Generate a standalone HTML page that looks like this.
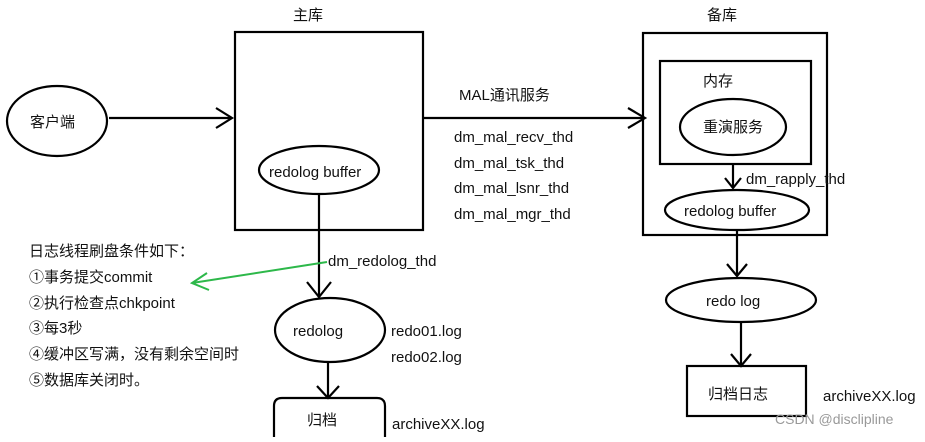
<!DOCTYPE html>
<html><head><meta charset="utf-8"><style>
body{margin:0;background:#fff}
svg text{font-family:"Liberation Sans","Noto Sans CJK SC",sans-serif;font-size:15px;fill:#111}
</style></head><body>
<svg width="925" height="437" viewBox="0 0 925 437" xmlns="http://www.w3.org/2000/svg">
<g fill="none" stroke="#000" stroke-width="2.2">
<rect x="235" y="32" width="188" height="198"/>
<ellipse cx="57" cy="121" rx="50" ry="35"/>
<line x1="109" y1="118" x2="232" y2="118"/><polyline points="216,108 232,118 216,128"/>
<ellipse cx="319" cy="170" rx="60" ry="24"/>
<line x1="319" y1="195" x2="319" y2="297"/><polyline points="307,282 319,297 331,282"/>
<ellipse cx="330" cy="330" rx="55" ry="32"/>
<line x1="328" y1="363" x2="328" y2="398"/><polyline points="317,386 328,398 339,386"/>
<path d="M274,437 V406 Q274,398 282,398 H377 Q385,398 385,406 V437"/>
<line x1="423" y1="118" x2="645" y2="118"/><polyline points="628,108 645,118 628,128"/>
<rect x="643" y="33" width="184" height="202"/>
<rect x="660" y="61" width="151" height="103"/>
<ellipse cx="733" cy="127" rx="53" ry="28"/>
<line x1="733" y1="164" x2="733" y2="188"/><polyline points="725,178 733,188 741,178"/>
<ellipse cx="737" cy="210" rx="72" ry="20"/>
<line x1="737" y1="231" x2="737" y2="276"/><polyline points="727,264 737,276 747,264"/>
<ellipse cx="741" cy="300" rx="75" ry="22"/>
<line x1="741" y1="323" x2="741" y2="366"/><polyline points="731,354 741,366 751,354"/>
<rect x="687" y="366" width="119" height="50"/>
</g>
<g fill="none" stroke="#2db84a" stroke-width="2">
<line x1="327" y1="262" x2="192" y2="283"/><polyline points="207,273 192,283 209,290"/>
</g>
<text x="293" y="20">主库</text>
<text x="30" y="127">客户端</text>
<text x="269" y="177">redolog buffer</text>
<text x="328" y="266">dm_redolog_thd</text>
<text x="293" y="336">redolog</text>
<text x="391" y="336">redo01.log</text>
<text x="391" y="362">redo02.log</text>
<text x="307" y="425">归档</text>
<text x="392" y="429">archiveXX.log</text>
<text x="29" y="256">日志线程刷盘条件如下：</text>
<text x="29" y="282">①事务提交commit</text>
<text x="29" y="308">②执行检查点chkpoint</text>
<text x="29" y="333">③每3秒</text>
<text x="29" y="359">④缓冲区写满，没有剩余空间时</text>
<text x="29" y="385">⑤数据库关闭时。</text>
<text x="459" y="100">MAL通讯服务</text>
<text x="454" y="142">dm_mal_recv_thd</text>
<text x="454" y="168">dm_mal_tsk_thd</text>
<text x="454" y="193">dm_mal_lsnr_thd</text>
<text x="454" y="219">dm_mal_mgr_thd</text>
<text x="707" y="20">备库</text>
<text x="703" y="86">内存</text>
<text x="703" y="132">重演服务</text>
<text x="746" y="184">dm_rapply_thd</text>
<text x="684" y="216">redolog buffer</text>
<text x="706" y="306">redo log</text>
<text x="708" y="399">归档日志</text>
<text x="823" y="401">archiveXX.log</text>
<text x="775" y="424" style="fill:#999;font-size:14px">CSDN @disclipline</text>
</svg>
</body></html>
